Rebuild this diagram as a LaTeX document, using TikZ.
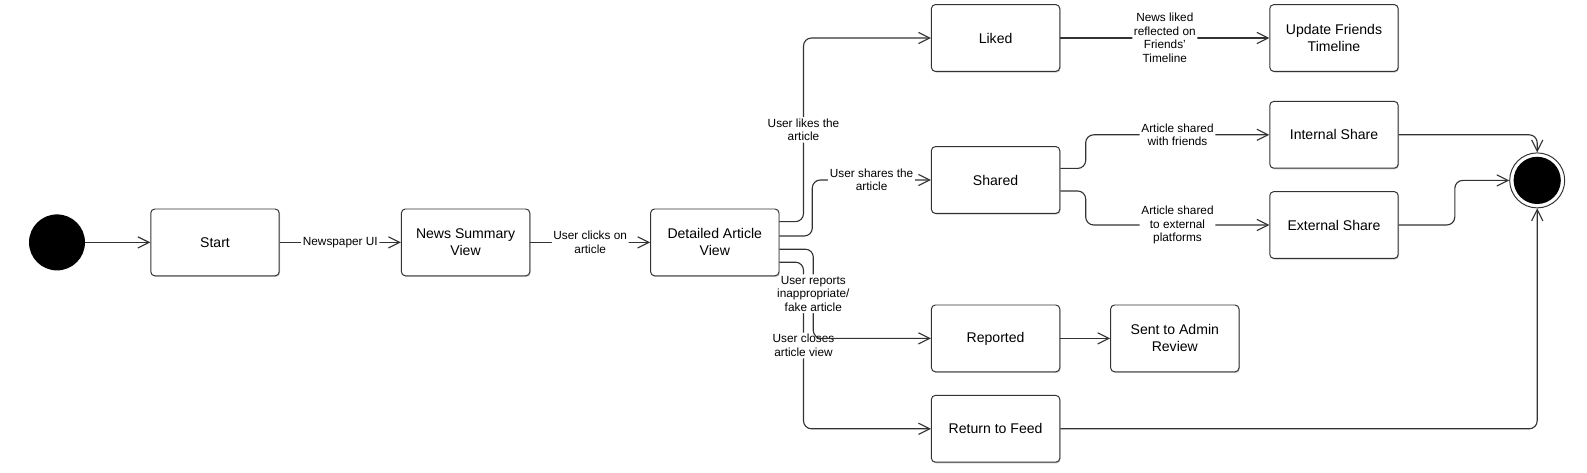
\documentclass[tikz,border=0pt]{standalone}
\usepackage{fontspec}
\setmainfont{Liberation Sans}
\usetikzlibrary{arrows.meta,shadows}

\begin{document}
\begin{tikzpicture}[state/.style={draw=black!80,line width=0.7pt,fill=white,rounded corners=1mm,minimum width=3.21cm,minimum height=1.67cm,align=center,font=\fontsize{10}{12}\selectfont,drop shadow={shadow xshift=0.6pt,shadow yshift=-0.8pt,fill=black!35,opacity=0.6}},flow/.style={-{Straight Barb[length=2.8mm,width=2.8mm]},draw=black!80,line width=0.8pt,rounded corners=2mm},cond/.style={fill=white,inner sep=1.2pt,align=center,font=\fontsize{8.4}{9.6}\selectfont},endstate/.style={circle,draw=black!80,line width=0.7pt,minimum size=13.75mm,inner sep=0pt,path picture={\fill[black] (path picture bounding box.center) circle (5.9mm);}}]
\useasboundingbox (0,0) rectangle (39.675,11.8);
\node[circle,fill=black,minimum size=1.4cm,inner sep=0pt] (init) at (1.425,5.74) {};
\node[state] (start) at (5.375,5.74) {Start};
\node[state] (summary) at (11.64,5.74) {News Summary\\View};
\node[state] (detail) at (17.87,5.74) {Detailed Article\\View};
\node[state] (liked) at (24.89,10.85) {Liked};
\node[state] (friends) at (33.35,10.85) {Update Friends\\Timeline};
\node[state] (shared) at (24.89,7.3) {Shared};
\node[state] (internal) at (33.35,8.43) {Internal Share};
\node[state] (external) at (33.35,6.175) {External Share};
\node[state] (reported) at (24.89,3.34) {Reported};
\node[state] (admin) at (29.37,3.34) {Sent to Admin\\Review};
\node[state] (feed) at (24.89,1.08) {Return to Feed};
\node[endstate] (done) at (38.43,7.29) {};
\draw[flow] (init) -- (start);
\draw[flow] (start) -- node[cond] {Newspaper UI} (summary);
\draw[flow] (summary) -- node[cond] {User clicks on\\article} (detail);
\draw[flow] ([yshift=5.2mm]detail.east) -- ++(0.6,0) |- node[cond,pos=0.25] {User likes the\\article} (liked);
\draw[flow] ([yshift=1.6mm]detail.east) -- ++(0.82,0) |- node[cond,pos=0.75] {User shares the\\article} (shared);
\draw[flow] ([yshift=-4.95mm]detail.east) -- ++(0.6,0) |- node[cond,pos=0.25] {User closes\\article view} (feed);
\draw[flow] ([yshift=-1.7mm]detail.east) -- ++(0.845,0) |- node[cond,pos=0.25] {User reports\\inappropriate/\\fake article} (reported);
\draw[flow] (liked) -- node[cond] {News liked\\reflected on\\Friends'\\Timeline} (friends);
\draw[flow] ([yshift=2.9mm]shared.east) -- ++(0.635,0) |- node[cond,pos=0.75] {Article shared\\with friends} (internal);
\draw[flow] ([yshift=-2.75mm]shared.east) -- ++(0.635,0) |- node[cond,pos=0.75] {Article shared\\to external\\platforms} (external);
\draw[flow] (reported) -- (admin);
\draw[flow] (internal) -| (done);
\draw[flow] (external) -- ++(3.02,0) |- (done);
\draw[flow] (feed) -| (done);
\end{tikzpicture}
\end{document}
